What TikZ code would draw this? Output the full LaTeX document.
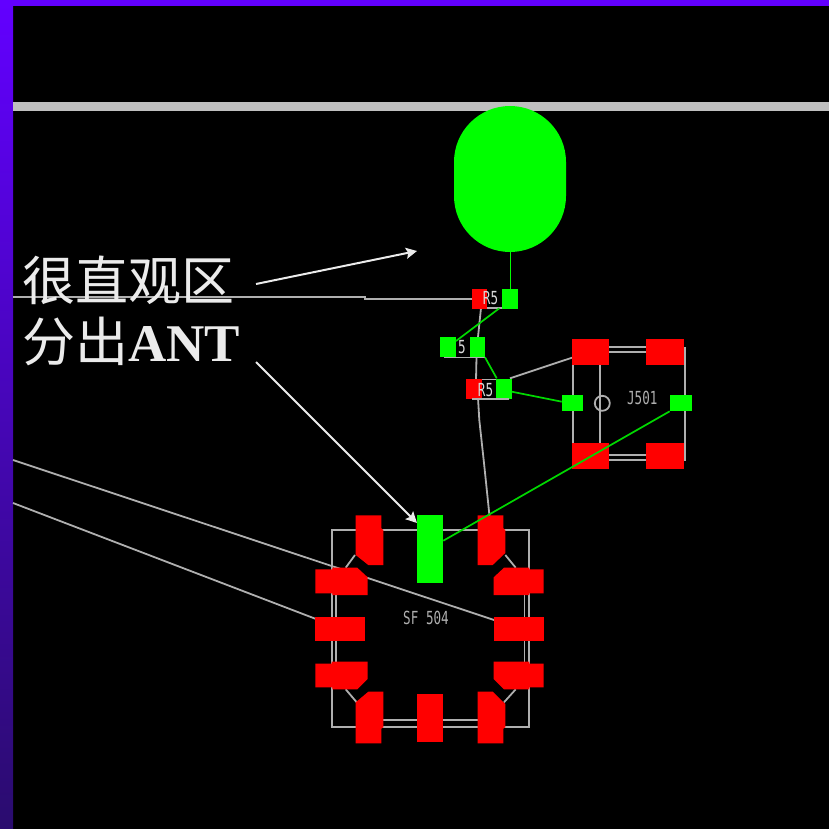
\documentclass[tikz,border=0pt]{standalone}
\usepackage{fontspec}
\setmainfont{Liberation Serif}
\newfontfamily\cjk{Noto Sans CJK SC}
\newfontfamily\pcbfont[FakeStretch=0.7]{DejaVu Sans Mono}
\usetikzlibrary{arrows.meta}
\definecolor{padred}{RGB}{255,0,0}
\definecolor{padgreen}{RGB}{0,255,0}
\definecolor{silk}{RGB}{175,175,175}
\definecolor{barviolet}{RGB}{98,0,255}
\definecolor{bardark}{RGB}{42,12,110}
\tikzset{
	silkline/.style={draw=silk, line width=1.8pt},
	ratsnest/.style={draw=padgreen!85!black, line width=1.7pt},
	redpad/.style={fill=padred},
	greenpad/.style={fill=padgreen},
	silktext/.style={text=silk, font=\pcbfont\fontsize{18}{18}\selectfont, inner sep=0pt},
	padtext/.style={text=white!85!black, font=\pcbfont\fontsize{18}{18}\selectfont, inner sep=0pt},
	callout/.style={draw=white!92!black, line width=2pt, -{Stealth[length=11pt,width=11pt,inset=2pt]}},
	bigtext/.style={text=white!92!black, font=\fontsize{53}{53}\selectfont, inner sep=0pt, anchor=base west}
}
\begin{document}
\begin{tikzpicture}[x=1pt,y=-1pt]
	\useasboundingbox (0,0) rectangle (829,829);
	% Draw the background
	\fill[black] (0,0) rectangle (829,829);
	\shade[top color=barviolet, bottom color=bardark] (0,0) rectangle (13,829);
	\fill[barviolet] (0,0) rectangle (829,6);
	\fill[white!75!black] (13,102) rectangle (829,111);

	% Draw the antenna pad
	\fill[greenpad, rounded corners=56pt] (454,106) rectangle (566,252);
	\draw[padgreen, line width=1.7pt] (510.5,250) -- (510.5,289);

	% Draw the long traces
	\draw[silkline] (13,460) -- (494,620);
	\draw[silkline] (13,503) -- (316,619);
	\draw[silkline] (13,296.7) -- (365,296.7) -- (365,299.3) -- (473,299.3);
	\draw[silkline] (481,308) -- (478,337) -- (476.5,357) -- (476,380);
	\draw[silkline] (478,398) -- (479.3,420) -- (481.7,442) -- (484,463) -- (489.5,516);
	\draw[silkline] (510,378.3) -- (572,357.7);

	% Draw the R5 parts
	\fill[redpad] (472,288.5) rectangle (487,308.5);
	\fill[greenpad] (502,288.5) rectangle (517.5,308.5);
	\fill[greenpad] (439.7,336.7) rectangle (456,356.7);
	\fill[greenpad] (470,336.7) rectangle (485,356.7);
	\draw[silkline] (444,357.5) -- (485,357.5);
	\fill[redpad] (465.7,379) rectangle (481.7,398.5);
	\fill[greenpad] (495.7,379) rectangle (511.7,398.5);
	\draw[silkline] (472,399) -- (509,399);
	\draw[silkline] (487,308) -- (502,308);
	\draw[silkline] (482,379.5) -- (496,379.5);
	\node[padtext] (rfive a) at (490.5,298) {R5};
	\node[padtext] (rfive b) at (462,347) {5};
	\node[padtext] (rfive c) at (485.5,390) {R5};

	% Draw the J501 outline
	\draw[silkline] (609,347.3) -- (646,347.3);
	\draw[silkline] (609,351.7) -- (646,351.7);
	\draw[silkline] (609,455.3) -- (646,455.3);
	\draw[silkline] (609,460) -- (646,460);
	\draw[silkline] (684.7,347) -- (684.7,460.7);
	\draw[silkline] (572.7,364) -- (572.7,443);
	\draw[silkline] (600.3,364) -- (600.3,443);
	\draw[silkline] (602.3,403.3) circle (7.5);
	\node[silktext] (jfive) at (642.3,398.3) {J501};

	% Draw the J501 pads
	\fill[redpad] (571.7,339) rectangle (609.3,364.7);
	\fill[redpad] (646,339) rectangle (683.7,364.7);
	\fill[redpad] (571.7,443) rectangle (609.3,469);
	\fill[redpad] (646,443) rectangle (683.7,469);
	\fill[greenpad] (561.7,395) rectangle (583.3,410.7);
	\fill[greenpad] (669.7,395) rectangle (691.7,410.7);

	% Draw the SF504 outline
	\draw[silkline] (332.3,530.3) rectangle (528.7,726.7);
	\draw[silkline] (336,595) -- (336,662);
	\draw[silkline] (524.5,595) -- (524.5,662);
	\draw[silkline] (383,720) -- (417,720);
	\draw[silkline] (443,720) -- (478,720);
	\draw[silkline] (355,555) -- (345.7,567.7);
	\draw[silkline] (505.3,555) -- (515.7,567.7);
	\draw[silkline] (345.7,689.3) -- (356.7,702.3);
	\draw[silkline] (515.7,689.3) -- (504,702.3);
	\node[silktext] (sfive) at (426,618.3) {SF 504};

	% Draw the SF504 pads
	\fill[redpad] (355.7,515.3) -- (381.3,515.3) -- (381.3,528.3) -- (383.3,530) -- (383.3,565) -- (368.3,565) -- (355.7,555) -- cycle;
	\fill[redpad] (477.7,515.3) -- (503.3,515.3) -- (503.3,528.3) -- (505.3,530) -- (505.3,553) -- (492.7,565) -- (477.7,565) -- cycle;
	\fill[redpad] (315.3,569.3) -- (332.3,569.3) -- (332.3,567.7) -- (357.3,567.7) -- (367.7,577.3) -- (367.7,595) -- (332.3,595) -- (332.3,593.3) -- (315.3,593.3) -- cycle;
	\fill[redpad] (315.3,617.3) rectangle (365.3,641.3);
	\fill[redpad] (315.3,663.7) -- (331.7,663.7) -- (331.7,661.7) -- (367.7,661.7) -- (367.7,679) -- (357.3,689.3) -- (332.3,689.3) -- (332.3,687.3) -- (315.3,687.3) -- cycle;
	\fill[redpad] (504,567.7) -- (529.3,567.7) -- (529.3,569.3) -- (543.7,569.3) -- (543.7,593.3) -- (529.3,593.3) -- (529.3,595) -- (493.7,595) -- (493.7,577.3) -- cycle;
	\fill[redpad] (493.7,617.3) rectangle (543.7,641.3);
	\fill[redpad] (493.7,661.7) -- (529.3,661.7) -- (529.3,663.7) -- (543.7,663.7) -- (543.7,687.3) -- (529.3,687.3) -- (529.3,689.3) -- (504,689.3) -- (493.7,679) -- cycle;
	\fill[redpad] (368.3,691.7) -- (383.3,691.7) -- (383.3,727.3) -- (381.3,728.7) -- (381.3,743.3) -- (355.7,743.3) -- (355.7,702.3) -- cycle;
	\fill[redpad] (417.3,693.7) rectangle (443.3,741.7);
	\fill[redpad] (477.7,691.7) -- (492.7,691.7) -- (505.3,704) -- (505.3,727.3) -- (503.3,728.7) -- (503.3,743.3) -- (477.7,743.3) -- cycle;
	\fill[greenpad] (417.3,515.3) rectangle (443.3,583);

	% Draw the thin green links
	\draw[ratsnest] (499.3,308.3) -- (456,341);
	\draw[ratsnest] (485,357.3) -- (496.7,378.3);
	\draw[ratsnest] (511.7,391.7) -- (561.7,401.7);
	\draw[ratsnest] (669.7,411.3) -- (443.3,540.7);

	% Draw the text and the arrows
	\node[bigtext] (hint a) at (22,300) {\cjk 很直观区};
	\node[bigtext] (hint b) at (22,361) {\cjk 分出\rmfamily\bfseries ANT};
	\coordinate (tip a) at (417,251);
	\coordinate (tip b) at (417,523);
	\coordinate (tail a) at (256,284);
	\coordinate (tail b) at (256,362);
	\draw[callout] (tail a) -- (tip a);
	\draw[callout] (tail b) -- (tip b);
\end{tikzpicture}
\end{document}
